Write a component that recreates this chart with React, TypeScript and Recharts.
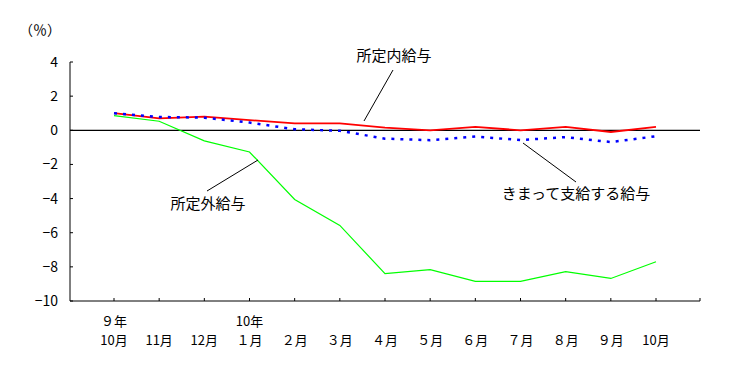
import { LineChart, Line, XAxis, YAxis, ReferenceLine } from "recharts";

const months = ["10月", "11月", "12月", "１月", "２月", "３月", "４月", "５月", "６月", "７月", "８月", "９月", "10月"];
const years = ["９年", "", "", "10年", "", "", "", "", "", "", "", "", ""];

const shoteinai = [1.0, 0.7, 0.8, 0.6, 0.4, 0.4, 0.15, 0.0, 0.2, 0.0, 0.2, -0.1, 0.2];
const kimatte = [1.0, 0.78, 0.74, 0.45, 0.06, -0.03, -0.49, -0.58, -0.37, -0.57, -0.4, -0.69, -0.35];
const shoteigai = [0.86, 0.53, -0.62, -1.27, -4.05, -5.57, -8.4, -8.16, -8.85, -8.85, -8.28, -8.68, -7.7];

const yTicks = [4, 2, 0, -2, -4, -6, -8, -10];

const data = months.map((m, i) => ({
  key: i,
  month: m,
  year: years[i],
  shoteinai: shoteinai[i],
  kimatte: kimatte[i],
  shoteigai: shoteigai[i],
}));

const FONT = '"Noto Sans CJK JP", "DejaVu Sans", sans-serif';

function XTick(props: any) {
  const { x, y, payload } = props;
  const d = data[payload.value];
  return (
    <g>
      <line x1={x} y1={y} x2={x} y2={y - 3} stroke="#000" />
      {d.year && (
        <text x={x} y={y + 25} textAnchor="middle" fontSize={13} fontFamily={FONT} fill="#000">
          {d.year}
        </text>
      )}
      <text x={x} y={y + 44} textAnchor="middle" fontSize={13} fontFamily={FONT} fill="#000">
        {d.month}
      </text>
    </g>
  );
}

function YTick(props: any) {
  const { x, y, payload } = props;
  const v = payload.value as number;
  return (
    <g>
      <line x1={x} y1={y} x2={x + 3} y2={y} stroke="#000" />
      <text x={x - 12} y={y + 5} textAnchor="end" fontSize={14} fontFamily={FONT} fill="#000">
        {v < 0 ? `−${Math.abs(v)}` : v}
      </text>
    </g>
  );
}

export default function App() {
  return (
    <div style={{ position: "relative", width: 724, height: 358 }}>
      <LineChart
        width={724}
        height={358}
        data={data}
        margin={{ top: 54, right: 32, left: 2, bottom: 15 }}
      >
        <XAxis
          dataKey="key"
          type="category"
          padding={{ left: 44, right: 44 }}
          axisLine={{ stroke: "#000" }}
          tickLine={false}
          tickSize={0}
          tickMargin={0}
          tick={<XTick />}
          interval={0}
          height={50}
        />
        <YAxis
          domain={[-10, 4]}
          ticks={yTicks}
          axisLine={{ stroke: "#000" }}
          tickLine={false}
          tickSize={0}
          tickMargin={0}
          tick={<YTick />}
          width={60}
          interval={0}
        />
        <ReferenceLine y={0} stroke="#000" strokeWidth={1.2} />
        <Line
          dataKey="shoteigai"
          stroke="#00ff00"
          strokeWidth={1.2}
          dot={false}
          type="linear"
          isAnimationActive={false}
        />
        <Line
          dataKey="shoteinai"
          stroke="#ff0000"
          strokeWidth={1.8}
          dot={false}
          type="linear"
          isAnimationActive={false}
        />
        <Line
          dataKey="kimatte"
          stroke="#0000ff"
          strokeWidth={2.5}
          strokeDasharray="3 6"
          dot={false}
          type="linear"
          isAnimationActive={false}
        />
      </LineChart>
      <svg
        width={724}
        height={358}
        style={{ position: "absolute", left: 0, top: 0, pointerEvents: "none" }}
      >
        <g fontFamily={FONT} fontSize={15} fill="#000">
          <text x={32} y={27} textAnchor="middle" fontSize={14}>（％）</text>
          <text x={386} y={53} textAnchor="middle">所定内給与</text>
          <text x={568} y={191} textAnchor="middle">きまって支給する給与</text>
          <text x={200} y={201} textAnchor="middle">所定外給与</text>
        </g>
        <g stroke="#000" strokeWidth={1}>
          <line x1={385} y1={62} x2={356} y2={113} />
          <line x1={515} y1={135} x2={568} y2={174} />
          <line x1={250} y1={152} x2={199} y2={183} />
          <line x1={692} y1={293} x2={692} y2={290} />
        </g>
      </svg>
    </div>
  );
}
